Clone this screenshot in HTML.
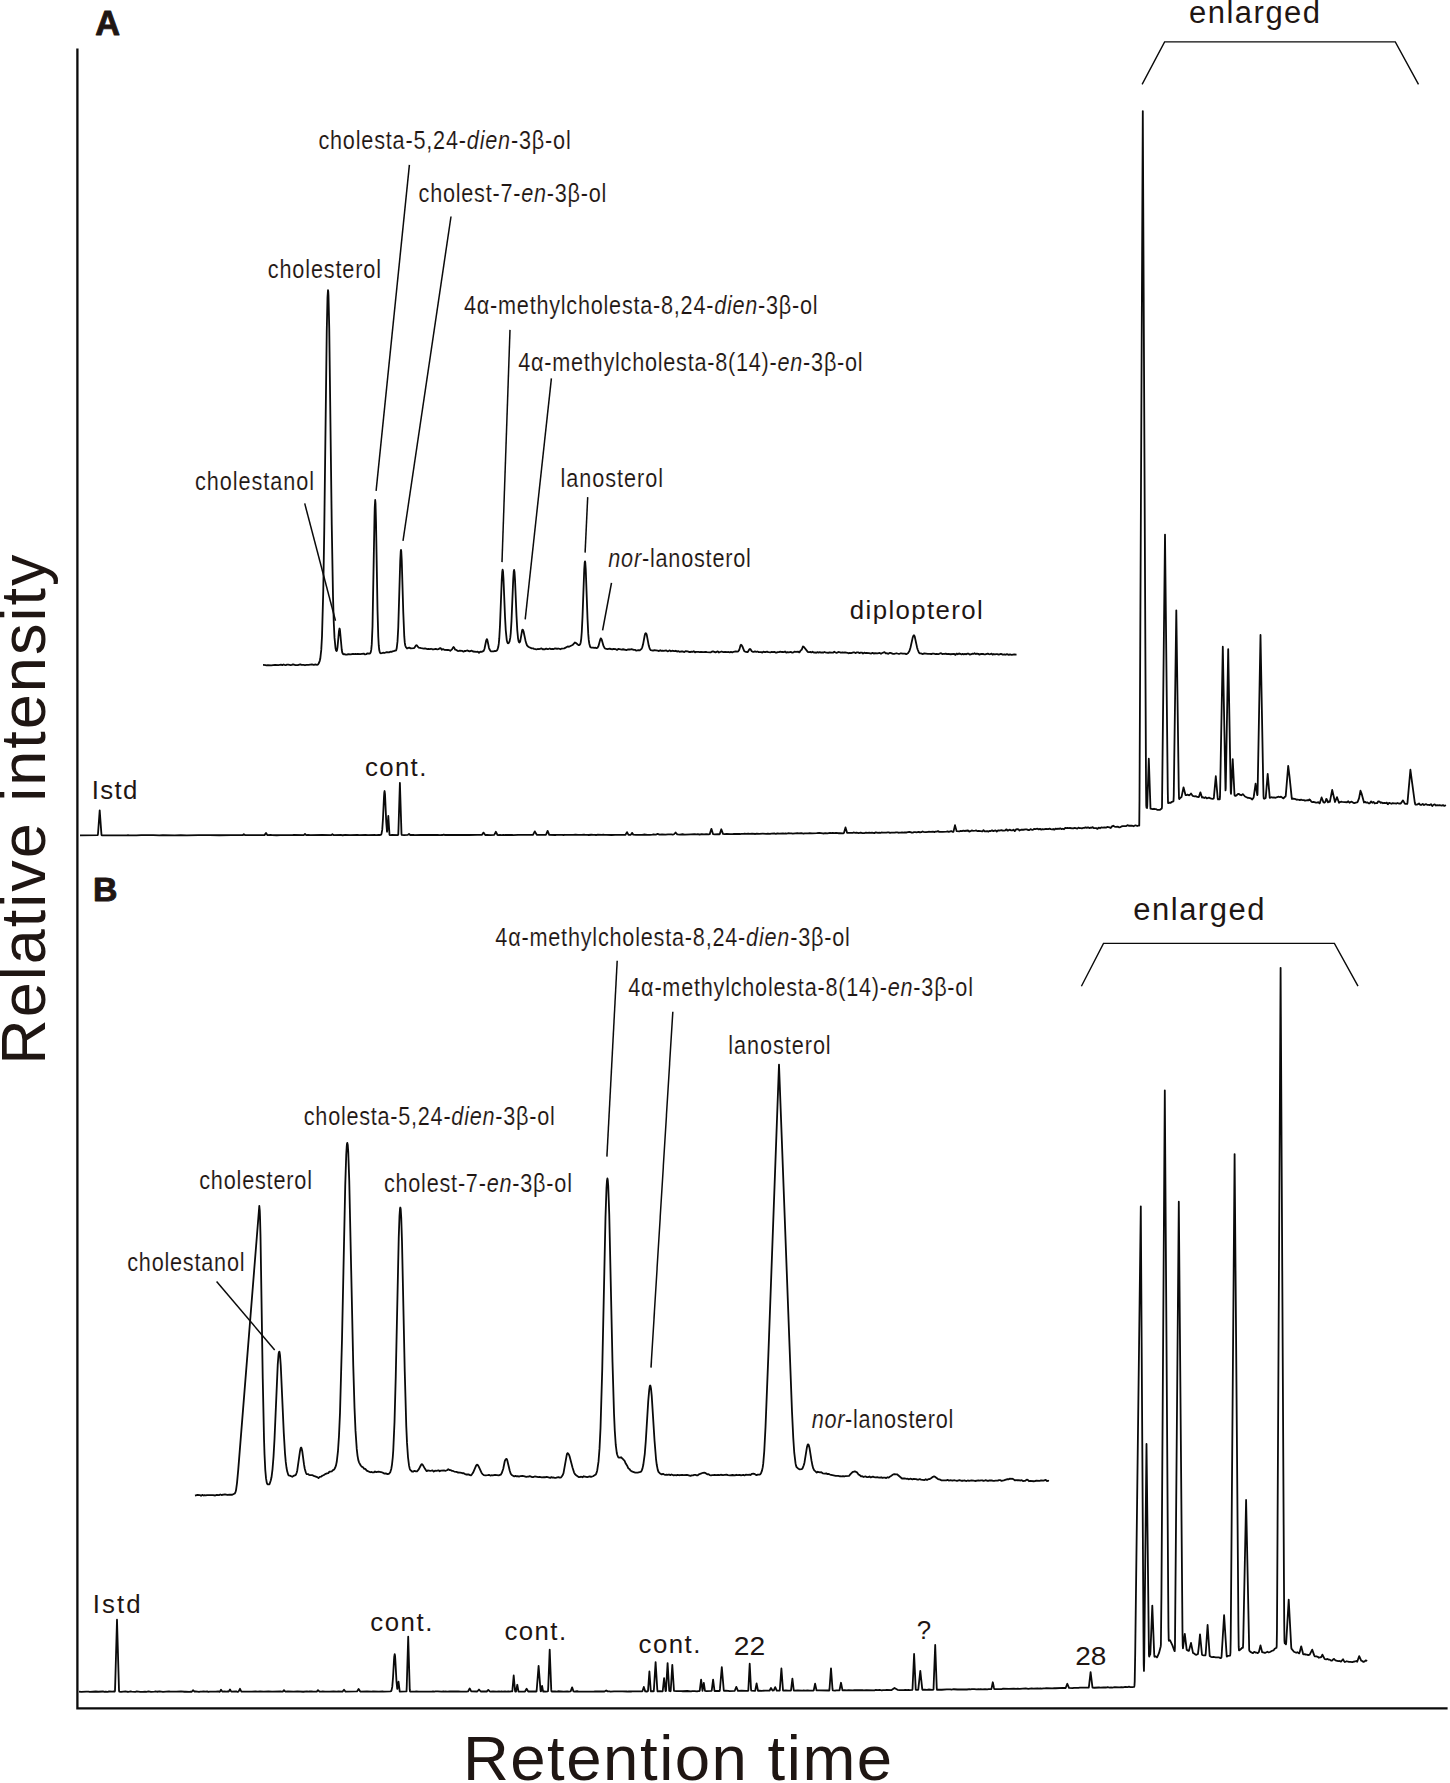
<!DOCTYPE html><html><head><meta charset="utf-8"><style>html,body{margin:0;padding:0;background:#fff;}svg{display:block;}text{font-family:"Liberation Sans",sans-serif;fill:#1f1613;}.th{stroke:#fff;stroke-width:0.12px;}.hv{stroke:#1f1613;stroke-width:0.9px;stroke-linejoin:round;}</style></head><body>
<svg width="1450" height="1783" viewBox="0 0 1450 1783">
<rect width="1450" height="1783" fill="#fff"/>
<path d="M77.4 48.5V1708.4H1447.6" fill="none" stroke="#0a0a0a" stroke-width="2.3" stroke-linejoin="miter"/>
<path d="M80.00 835.31L97.75 835.22L98.00 833.79L99.70 810.28L101.25 831.82L101.50 834.87L101.75 835.30L126.75 835.34L128.00 835.19L129.25 835.34L136.50 835.35L141.25 835.18L153.25 835.18L159.25 835.32L162.75 835.11L174.75 835.32L180.75 835.14L186.75 835.29L198.75 835.11L208.25 835.21L209.50 835.07L219.25 835.26L231.25 835.09L242.50 835.22L243.80 834.28L245.00 835.10L246.75 835.22L255.25 835.03L258.75 835.20L264.50 835.12L266.00 832.91L267.50 835.14L270.75 834.99L272.00 835.16L276.75 835.23L280.25 835.04L281.75 835.22L291.25 835.03L292.50 835.16L293.75 835.00L303.75 835.12L305.00 834.05L306.25 835.09L308.00 834.97L310.50 835.16L322.25 834.99L331.00 835.15L332.40 834.26L333.25 834.96L333.75 835.13L341.50 835.01L342.75 835.25L345.25 834.94L350.00 835.15L357.25 834.96L359.50 835.15L365.50 834.85L368.00 835.13L375.25 835.02L376.50 835.19L378.75 834.95L380.25 835.01L381.00 834.70L381.50 833.88L382.25 829.64L383.00 818.31L384.00 796.58L384.25 792.99L384.60 791.03L385.00 794.14L386.25 822.25L387.00 831.75L387.25 830.79L388.30 816.01L389.50 834.64L389.75 834.99L390.75 835.17L392.00 834.97L398.00 835.07L398.25 834.72L398.50 828.49L399.90 782.78L401.50 834.02L401.75 834.92L404.00 835.20L407.75 834.91L409.00 833.94L410.25 835.00L413.50 834.92L414.75 835.09L420.75 834.80L422.00 835.00L437.50 834.90L440.00 835.06L442.25 835.02L443.50 834.73L445.00 834.99L466.25 834.88L468.75 835.02L477.25 834.84L481.00 834.96L482.00 834.77L483.50 832.60L485.25 834.98L487.00 834.82L490.50 835.03L494.25 834.82L495.90 831.79L497.50 834.99L497.75 835.04L500.00 834.81L501.25 835.07L503.50 834.86L504.75 835.02L510.75 834.99L512.00 834.81L513.25 835.06L518.00 834.84L532.50 834.95L533.00 834.87L534.80 831.39L536.75 834.79L545.75 834.82L546.00 834.77L547.60 830.85L549.25 834.82L555.25 834.99L556.50 834.80L561.25 834.91L562.25 834.78L563.50 835.01L564.75 834.77L566.00 834.94L567.25 834.78L568.50 834.94L573.25 834.94L575.50 834.64L578.00 834.87L581.50 834.93L584.00 834.73L585.25 834.96L587.50 834.83L588.75 835.01L591.25 834.76L593.50 834.92L594.75 834.77L596.00 834.99L597.25 834.77L602.00 834.92L603.25 834.72L604.50 834.93L606.75 834.79L611.50 834.99L615.25 834.78L622.50 834.88L625.50 834.75L627.00 832.12L628.50 834.90L630.75 834.87L632.00 832.88L633.25 834.62L635.75 834.91L642.75 834.74L644.00 834.52L647.50 834.87L650.00 834.85L652.50 834.63L653.50 834.32L654.75 834.70L655.75 834.71L657.60 833.90L659.50 834.63L662.00 834.48L665.50 834.70L668.00 834.47L671.50 834.46L672.75 834.63L674.00 834.26L675.60 832.51L677.25 834.37L680.00 834.59L682.50 834.24L684.75 834.54L690.75 834.28L694.50 834.26L696.75 834.44L698.00 834.17L699.25 834.51L700.25 834.49L701.75 834.07L704.00 834.28L706.25 834.12L708.75 834.28L709.75 834.12L711.40 828.80L713.00 834.07L714.75 834.31L718.25 834.08L719.50 834.30L719.75 834.13L721.30 829.25L723.00 833.88L724.50 834.08L726.75 833.81L730.25 834.15L732.75 834.08L734.00 833.80L740.00 834.02L741.25 833.84L743.50 833.94L744.75 833.71L746.00 833.89L748.25 833.60L749.75 833.94L752.00 833.69L755.50 833.98L756.75 833.75L759.25 833.94L762.75 833.65L766.25 833.82L767.75 833.53L770.00 833.84L771.25 833.61L774.75 833.51L776.00 833.80L777.25 833.40L779.50 833.61L783.00 833.40L784.50 833.57L785.50 833.37L786.75 833.59L788.00 833.25L790.25 833.47L791.50 833.28L792.75 833.54L797.50 833.16L798.75 833.39L801.25 833.16L803.50 833.69L804.75 833.40L808.50 833.41L809.50 833.11L812.00 833.32L816.75 833.19L819.25 832.82L822.75 833.44L824.00 833.48L825.25 833.18L827.50 833.30L830.00 832.83L831.25 833.10L832.50 832.81L834.75 833.18L836.00 832.82L838.25 833.24L839.75 833.10L843.25 833.30L843.75 833.17L844.00 832.74L845.50 827.40L847.00 832.57L847.25 832.92L852.75 832.81L854.00 832.49L855.25 832.90L856.50 832.67L858.75 833.12L860.00 832.76L861.25 832.76L862.50 833.07L864.75 832.99L866.00 832.73L867.25 832.92L869.50 832.64L870.75 832.86L872.00 832.63L874.25 833.14L875.75 832.42L878.00 832.91L879.25 832.67L880.50 832.86L881.50 832.50L882.75 832.71L886.25 832.68L887.75 832.37L888.75 832.39L890.00 832.86L891.25 832.63L894.75 832.61L896.00 832.31L897.25 832.34L898.50 832.75L899.50 832.55L900.75 832.65L902.00 832.34L903.25 832.71L904.50 832.49L906.75 832.48L909.25 831.91L910.50 832.10L911.75 832.63L912.75 832.55L914.00 832.14L915.25 832.14L916.50 832.40L918.75 831.82L920.00 832.42L921.25 832.16L922.50 831.45L923.50 831.90L925.00 832.05L926.00 832.11L928.50 831.77L930.75 831.96L933.00 831.74L934.50 832.12L935.50 831.57L936.75 831.66L938.00 831.14L939.25 831.88L942.75 831.92L946.50 831.70L947.50 831.48L948.75 831.89L951.25 831.03L952.50 831.76L953.25 831.95L953.50 831.63L955.00 825.12L956.50 830.87L956.75 831.20L959.50 831.31L960.75 830.87L962.00 831.16L963.25 830.72L964.50 830.99L968.00 830.50L969.25 831.56L970.50 831.20L971.75 830.40L973.00 830.81L975.25 830.71L976.25 830.45L977.50 831.18L978.75 830.79L982.25 831.37L982.50 831.30L983.50 830.20L983.75 830.27L984.75 831.46L987.25 831.03L988.50 831.66L989.50 830.87L990.75 831.02L992.00 830.34L993.25 831.11L995.50 830.41L996.75 831.45L998.00 830.40L999.25 830.52L1001.50 830.13L1002.75 830.63L1004.00 830.72L1005.25 830.45L1006.25 829.38L1006.50 829.35L1007.50 830.61L1007.75 830.66L1010.00 829.63L1011.25 830.45L1012.50 830.33L1013.50 829.66L1014.75 831.17L1016.00 829.44L1017.25 829.16L1018.50 829.49L1019.50 830.50L1021.00 829.77L1023.25 829.76L1025.50 829.40L1026.75 829.38L1028.00 830.01L1029.25 830.09L1030.50 829.11L1031.50 829.62L1032.75 829.91L1034.00 828.93L1035.25 829.17L1037.50 828.72L1038.75 829.36L1040.00 828.92L1041.25 829.58L1042.50 829.23L1043.75 829.36L1046.00 828.78L1048.25 829.04L1049.50 828.67L1050.75 829.18L1052.00 829.35L1053.25 829.02L1054.25 829.70L1054.50 829.70L1055.50 828.59L1055.75 828.56L1056.75 829.06L1058.00 828.53L1059.25 828.83L1060.25 828.30L1060.50 828.31L1061.50 829.19L1062.75 828.74L1064.00 829.25L1065.25 827.84L1066.50 828.20L1067.50 827.98L1068.75 828.12L1070.00 828.00L1072.25 828.32L1073.50 828.27L1074.75 827.95L1077.25 828.65L1078.50 827.66L1079.50 828.07L1080.75 828.04L1082.00 828.32L1083.25 827.97L1084.50 827.91L1085.50 827.39L1086.75 827.89L1088.00 827.30L1089.25 828.12L1090.50 827.73L1091.50 827.77L1092.75 827.19L1094.00 828.18L1096.25 828.14L1097.50 828.90L1098.75 827.56L1100.00 828.26L1101.25 827.37L1102.50 827.63L1104.75 827.44L1106.00 827.63L1107.25 826.96L1109.50 827.36L1110.75 828.08L1112.00 826.37L1113.25 825.71L1114.50 826.51L1115.75 826.80L1118.00 826.69L1119.25 827.35L1120.50 827.10L1121.50 826.48L1122.75 826.10L1126.25 826.07L1127.50 825.18L1128.75 825.76L1132.25 825.77L1133.50 826.29L1135.00 825.45L1136.00 825.45L1137.25 826.05L1138.50 825.50L1139.25 825.66L1139.50 799.90L1142.80 111.03L1146.00 782.55L1146.25 805.45L1146.50 807.73L1147.00 807.98L1147.25 806.25L1148.80 758.68L1150.50 808.62L1152.75 809.17L1154.00 808.77L1155.00 809.15L1156.25 809.21L1157.50 809.93L1160.00 809.83L1161.75 808.53L1162.00 806.94L1165.00 534.56L1167.75 789.44L1168.00 802.24L1168.25 803.15L1169.50 802.71L1170.75 802.74L1172.00 801.81L1173.25 801.43L1173.50 801.09L1173.75 795.73L1176.30 610.38L1178.75 787.68L1179.00 798.25L1179.25 799.03L1180.25 797.92L1181.50 797.09L1183.50 787.35L1185.50 795.01L1185.75 795.17L1186.25 795.22L1187.50 794.70L1189.25 795.30L1190.00 794.79L1191.00 793.55L1192.75 795.96L1194.50 796.29L1196.00 796.25L1197.25 796.96L1198.50 797.21L1198.75 797.16L1199.00 796.60L1200.40 792.32L1202.00 797.53L1203.00 797.21L1204.25 798.02L1205.50 797.21L1206.75 798.39L1209.00 797.65L1210.50 798.33L1212.50 798.86L1213.50 798.58L1213.75 798.30L1214.00 796.14L1215.80 776.22L1217.75 798.55L1218.00 799.40L1219.75 799.35L1220.00 796.69L1220.25 785.32L1222.80 646.65L1225.50 790.46L1225.75 787.99L1228.20 649.16L1230.50 779.40L1230.75 792.05L1231.00 793.85L1232.70 759.10L1234.50 794.91L1234.75 795.62L1235.50 795.85L1236.50 795.37L1238.00 794.02L1239.00 793.98L1240.25 794.92L1241.25 795.23L1242.75 794.22L1243.00 794.24L1245.00 796.53L1247.50 797.74L1248.75 797.88L1251.00 798.49L1252.25 799.52L1253.50 797.64L1253.75 796.75L1255.60 783.59L1257.25 795.18L1257.50 794.51L1257.75 784.52L1260.50 634.93L1263.25 784.80L1263.50 795.80L1263.75 798.54L1264.25 798.77L1265.50 798.23L1265.75 797.32L1267.70 773.84L1269.75 797.95L1271.50 797.23L1272.75 797.59L1274.00 797.37L1275.00 797.77L1278.75 796.73L1280.00 797.19L1281.00 796.66L1282.25 797.66L1283.50 798.36L1284.75 796.86L1285.50 796.62L1285.75 795.60L1288.20 765.90L1289.50 776.39L1291.75 798.11L1292.00 798.97L1293.25 798.55L1295.50 799.13L1296.75 799.78L1297.75 799.50L1299.25 800.01L1301.50 799.76L1302.75 800.22L1304.00 800.12L1305.00 800.71L1306.25 800.34L1307.00 800.43L1307.50 800.08L1308.75 800.29L1309.30 799.39L1310.00 799.84L1311.50 801.76L1312.25 802.11L1313.50 801.79L1316.00 802.63L1317.00 802.71L1318.25 802.13L1319.50 803.39L1319.75 803.23L1320.00 802.59L1321.60 797.48L1323.50 802.40L1324.50 802.68L1325.50 801.59L1326.30 798.86L1326.75 799.27L1328.00 802.37L1329.00 801.46L1329.75 801.85L1330.00 801.14L1332.20 789.93L1335.00 802.03L1337.00 797.18L1339.00 802.82L1340.00 802.08L1341.00 801.73L1342.25 801.97L1347.00 802.26L1348.25 801.30L1349.50 802.71L1350.75 801.93L1351.75 801.67L1353.00 802.60L1354.25 803.09L1356.75 802.48L1357.50 802.10L1357.75 801.65L1359.00 798.31L1360.50 790.71L1361.50 793.34L1364.00 802.49L1365.00 801.81L1366.25 802.71L1367.50 802.42L1368.75 803.42L1369.75 803.32L1371.00 801.39L1371.25 801.42L1372.25 802.76L1373.50 801.91L1374.75 803.49L1376.00 803.02L1377.00 803.22L1377.25 803.06L1378.25 801.29L1378.50 801.28L1379.60 801.57L1380.75 802.83L1381.75 802.42L1383.00 803.26L1384.25 802.80L1385.50 803.20L1386.75 802.61L1387.75 804.16L1388.00 804.26L1389.00 802.93L1389.25 802.85L1391.50 803.74L1392.75 803.14L1394.00 803.40L1395.25 803.30L1396.25 803.55L1397.50 803.01L1398.75 803.49L1400.25 803.65L1400.75 803.42L1403.00 800.41L1404.75 803.47L1405.25 803.93L1407.00 803.97L1407.25 803.85L1407.50 802.58L1410.40 769.76L1414.75 802.25L1415.25 804.37L1415.50 804.60L1416.75 804.67L1418.00 804.18L1419.00 803.42L1420.25 804.77L1421.50 804.79L1422.75 803.90L1424.00 805.12L1425.00 804.43L1426.25 804.16L1427.50 804.93L1428.75 804.82L1429.75 805.05L1431.00 804.14L1432.25 806.05L1433.50 804.75L1434.75 804.29L1436.00 805.53L1437.00 805.08L1438.25 805.47L1439.50 805.14L1441.75 805.56L1443.00 805.08L1444.25 805.90L1446.00 805.22" fill="none" stroke="#0a0a0a" stroke-width="1.8" stroke-linejoin="round"/>
<path d="M263.00 664.97L265.50 665.06L266.50 665.31L267.75 665.17L271.25 665.45L275.00 664.92L278.50 665.08L281.00 664.73L282.25 665.12L283.50 664.52L284.50 664.93L285.75 665.13L287.00 664.70L288.25 664.65L290.75 665.11L291.75 664.90L293.00 664.35L295.50 665.19L297.75 665.05L300.25 664.29L301.50 664.85L303.75 664.80L305.00 665.23L306.25 664.81L308.50 664.90L312.00 664.46L313.50 664.88L315.75 664.49L317.00 664.91L318.00 664.48L318.75 663.30L319.75 660.83L320.25 658.82L321.25 649.91L322.00 636.26L323.25 591.53L324.25 530.62L326.75 331.04L327.50 297.30L328.00 290.14L328.25 291.48L328.50 296.16L329.25 328.69L331.75 524.95L333.00 596.14L333.75 621.98L334.50 637.66L335.50 647.97L336.00 650.23L336.50 651.04L336.75 650.86L337.00 650.23L337.50 647.38L339.00 630.86L339.50 628.52L339.75 628.95L340.00 630.48L341.75 649.72L342.25 652.50L343.00 654.00L343.50 654.26L344.50 654.21L345.75 654.61L347.00 654.65L348.25 654.19L350.75 654.42L353.00 653.79L354.25 654.15L355.50 653.90L356.50 654.18L357.75 653.93L360.25 654.15L363.75 653.59L365.00 654.39L366.25 654.13L367.50 653.32L369.75 653.65L370.25 653.19L370.75 652.08L371.25 649.64L371.75 644.39L372.50 626.44L374.50 516.96L374.75 507.26L375.20 500.00L375.50 503.21L376.00 521.53L377.50 609.48L378.25 636.29L378.75 645.44L379.25 650.03L379.75 652.12L380.25 653.02L380.75 653.34L381.75 653.20L383.00 652.73L384.25 652.98L386.75 652.06L389.00 652.37L390.25 651.68L391.50 651.88L392.50 651.38L393.75 651.22L395.00 650.54L395.75 650.60L396.25 650.07L396.75 648.02L397.50 641.42L398.25 627.76L400.25 560.55L400.75 551.18L401.00 549.85L401.25 551.15L401.75 560.47L403.25 611.75L404.25 636.19L404.75 642.43L405.25 645.50L406.00 647.29L407.00 648.46L408.25 647.85L409.25 647.63L410.75 648.38L414.00 648.22L414.50 647.72L415.75 645.65L416.50 645.22L417.00 645.57L418.00 646.95L418.75 647.63L421.25 648.22L423.75 648.59L425.00 648.41L427.50 649.10L428.50 648.88L429.75 649.10L431.00 648.77L432.25 649.23L433.50 649.33L435.75 648.89L437.25 649.37L438.50 649.10L440.25 648.07L440.75 648.37L441.75 649.86L443.00 649.06L444.25 649.80L448.00 650.00L449.00 650.19L450.25 650.76L452.00 649.41L453.00 647.56L453.50 647.01L454.00 647.37L455.25 649.73L456.25 649.90L457.50 650.81L458.50 651.01L459.75 650.59L462.00 650.79L463.50 651.69L464.50 650.94L465.75 651.00L467.00 650.45L469.50 651.44L471.75 650.69L473.00 651.49L476.50 651.87L477.75 651.64L479.00 652.75L480.25 651.76L481.50 651.93L483.25 651.15L483.75 650.71L484.50 648.71L486.25 640.28L486.80 639.10L487.25 639.72L487.50 640.62L489.00 648.00L489.50 649.36L490.50 650.90L491.00 651.35L492.25 651.42L493.50 651.33L494.50 651.02L496.00 651.12L496.75 650.62L497.50 649.57L498.25 647.08L498.75 643.95L499.25 638.71L500.00 625.31L501.75 579.83L502.25 571.80L502.60 569.75L503.00 571.33L503.50 579.32L505.00 616.51L505.75 630.23L506.75 640.09L507.25 642.14L507.75 643.13L508.00 643.28L508.50 643.15L509.50 641.58L510.25 637.93L510.75 633.11L511.50 620.93L513.25 578.66L513.75 571.53L514.10 569.96L514.50 571.92L515.00 579.44L516.50 615.81L517.25 629.82L518.00 638.03L518.50 640.89L519.00 642.27L519.50 642.57L520.25 641.20L522.00 631.06L522.25 630.09L522.60 629.62L523.00 629.99L523.50 631.30L525.50 640.64L526.25 643.38L527.00 645.31L527.75 646.23L528.75 646.97L531.75 648.35L533.00 648.29L534.00 648.89L535.50 649.07L536.50 649.47L537.75 648.97L539.00 649.11L540.00 648.95L541.25 648.39L541.50 648.41L542.75 649.34L543.75 649.19L545.00 649.36L546.25 648.56L547.50 649.06L548.50 649.03L549.75 648.50L551.00 649.12L552.25 648.79L553.50 649.07L554.75 648.48L557.00 648.75L558.25 648.51L560.50 649.23L561.75 648.54L564.25 648.36L567.75 646.44L569.00 646.81L572.50 645.02L575.00 642.47L576.00 642.97L578.50 645.09L579.25 645.12L579.75 644.75L580.25 644.00L580.75 642.22L581.25 638.55L581.75 632.22L582.50 617.02L584.25 569.06L584.75 562.18L585.00 561.34L585.25 562.33L585.75 569.45L587.50 618.32L588.25 633.89L588.75 639.92L589.25 643.46L590.00 646.30L590.50 647.22L591.00 647.50L593.00 647.57L594.25 647.91L595.50 647.75L596.50 648.21L597.50 647.69L598.50 646.04L600.25 639.51L600.75 638.44L601.00 638.35L601.75 639.71L603.50 645.95L604.50 647.84L605.00 648.36L605.50 648.54L607.50 649.09L609.75 648.57L611.00 649.18L612.25 649.27L613.50 648.94L615.75 649.18L617.00 649.95L618.25 648.98L621.75 649.52L623.00 649.25L626.50 650.09L627.75 649.51L630.25 649.49L631.50 649.09L633.75 649.78L635.00 649.85L636.25 650.66L638.50 650.19L639.75 650.38L641.50 648.82L642.25 647.35L643.00 644.59L644.75 635.26L645.25 633.63L645.75 633.16L646.25 633.45L646.75 634.90L648.75 645.56L649.75 648.81L650.75 650.20L653.00 650.69L654.25 650.08L657.75 650.61L659.00 651.07L660.25 650.28L661.50 650.89L662.50 650.69L663.75 650.97L666.25 650.45L667.50 651.27L668.50 651.06L669.75 650.39L671.00 651.25L672.25 650.76L674.50 651.14L675.75 650.77L677.00 651.59L678.25 651.13L679.50 651.81L680.75 651.51L683.00 651.51L684.25 652.07L685.50 651.18L687.75 651.37L689.00 652.00L690.25 652.00L691.50 651.74L692.50 651.83L693.75 651.27L695.00 652.31L696.25 651.80L698.50 651.86L699.75 652.19L701.00 651.93L703.25 652.03L705.75 651.80L707.00 652.13L710.50 652.46L711.75 651.63L713.00 651.39L715.50 652.38L717.75 651.42L719.00 652.52L721.50 651.52L723.75 652.02L725.00 651.82L727.25 652.14L728.50 652.01L729.75 652.44L731.00 651.94L732.25 652.46L733.50 651.79L735.75 651.31L737.25 651.63L738.25 651.30L739.25 649.88L740.50 645.39L741.00 644.77L741.50 645.02L742.25 646.16L744.25 651.11L745.00 651.59L747.25 652.15L747.75 652.06L749.25 649.55L750.00 648.96L750.50 649.29L751.75 651.22L752.75 651.86L753.75 651.92L755.00 651.46L756.25 651.86L757.50 651.50L758.75 652.08L759.75 652.18L761.00 652.02L762.25 652.57L763.50 651.66L764.75 652.12L765.75 652.01L767.00 651.60L768.25 652.17L770.50 652.36L771.75 651.96L773.00 652.21L774.25 651.81L775.50 652.50L776.50 652.58L777.75 652.07L779.00 652.07L780.25 651.66L781.50 652.00L782.50 651.89L783.75 652.07L785.00 651.53L786.25 652.57L787.50 652.09L788.75 652.34L791.00 651.91L792.25 652.63L793.50 652.30L794.75 651.57L795.75 651.97L798.25 651.74L799.25 652.40L799.50 652.34L800.50 650.68L801.75 649.54L803.00 646.44L803.75 646.80L807.75 651.90L809.00 652.26L810.25 651.88L811.25 652.45L811.50 652.46L812.50 651.71L813.75 652.55L815.00 652.43L816.25 652.82L817.50 652.17L818.50 652.54L819.75 652.13L821.00 652.60L822.25 652.43L823.25 652.60L824.50 652.00L825.75 652.53L827.00 652.54L828.25 652.91L829.50 652.34L831.75 652.69L833.00 652.68L834.25 651.71L835.50 652.48L836.50 652.81L839.00 651.97L840.25 652.50L841.25 652.60L842.50 652.34L843.75 652.67L845.00 652.31L847.50 652.79L848.50 653.28L849.75 652.89L851.00 653.20L853.50 652.42L854.50 652.43L855.75 653.08L857.00 652.31L858.00 652.33L859.50 653.15L860.50 652.68L861.75 652.54L863.00 653.50L864.25 652.69L865.50 653.17L866.50 653.00L869.00 653.05L871.25 653.55L872.50 652.84L873.75 653.59L875.00 653.05L877.50 653.36L879.75 652.89L881.00 653.73L882.25 653.01L884.50 652.18L885.75 653.34L887.00 653.25L888.25 653.87L889.50 652.94L890.50 652.94L893.00 653.85L894.25 653.87L896.50 653.25L899.00 654.00L900.25 653.47L901.25 653.37L902.75 653.66L905.00 653.58L906.25 654.19L908.25 652.90L909.50 650.78L910.50 647.51L912.75 637.38L913.50 635.58L914.00 635.30L914.50 635.94L914.75 636.64L917.00 647.16L917.75 649.75L918.75 652.20L919.50 653.35L920.75 653.30L923.00 654.04L924.25 653.38L927.75 653.91L930.25 653.80L931.25 654.15L932.50 653.64L933.75 653.56L935.00 654.03L936.25 653.87L938.50 654.20L939.75 653.50L941.00 653.14L942.25 654.05L943.50 653.87L944.50 653.98L945.75 653.61L947.00 654.18L948.25 653.85L950.50 654.24L954.25 653.78L955.25 654.76L955.50 654.79L956.50 653.64L956.75 653.61L957.75 654.22L959.00 653.50L960.25 653.77L961.50 654.46L962.50 653.85L963.75 654.39L965.00 653.93L966.25 654.34L967.50 653.61L968.50 653.69L969.75 654.57L972.25 653.77L973.50 653.90L974.50 653.25L975.75 654.00L977.00 653.70L978.25 653.87L979.50 654.64L980.75 654.00L983.00 653.82L984.25 654.45L985.25 654.42L987.75 653.68L989.00 654.18L990.00 654.29L991.50 653.68L992.50 654.59L993.75 654.01L995.00 654.34L996.25 654.05L997.25 654.06L998.75 654.62L1001.00 653.83L1002.25 654.49L1003.50 654.64L1004.50 654.36L1005.75 654.75L1007.00 654.08L1008.25 654.74L1010.50 654.50L1011.75 654.91L1014.25 654.37L1015.50 654.62L1016.50 654.29" fill="none" stroke="#0a0a0a" stroke-width="1.8" stroke-linejoin="round"/>
<path d="M79.00 1691.65L81.25 1691.90L86.25 1691.56L88.50 1691.55L89.75 1691.82L95.75 1691.52L98.25 1691.77L103.00 1691.48L104.25 1691.85L105.50 1691.53L107.75 1691.97L109.00 1691.33L112.50 1691.69L113.75 1691.45L114.75 1691.59L115.00 1690.40L115.25 1682.64L117.00 1619.71L119.00 1690.24L119.25 1691.56L121.00 1691.90L125.75 1691.33L127.00 1691.74L128.25 1691.87L129.50 1691.72L130.50 1691.31L131.75 1691.60L135.25 1691.78L136.75 1691.46L140.25 1691.79L142.75 1691.79L145.00 1691.53L146.25 1691.82L148.50 1691.47L151.00 1691.89L154.50 1691.69L155.75 1691.36L157.00 1691.74L159.50 1691.35L163.00 1691.79L169.00 1691.41L170.25 1691.66L176.25 1691.71L181.00 1691.34L184.50 1691.74L185.75 1691.60L189.50 1691.89L190.50 1691.69L191.75 1691.80L193.00 1690.23L194.25 1691.49L195.50 1691.41L199.00 1691.91L200.25 1691.57L201.50 1691.68L203.75 1691.38L205.00 1691.67L207.25 1691.50L208.50 1691.79L209.75 1691.57L215.75 1691.71L218.25 1691.47L219.50 1691.80L220.00 1691.44L221.00 1689.80L222.25 1691.55L224.25 1691.47L226.50 1691.70L227.75 1691.43L228.75 1691.64L230.00 1689.48L231.25 1691.60L236.25 1691.44L237.50 1691.76L238.50 1691.56L240.00 1688.81L241.25 1691.30L241.50 1691.61L242.25 1691.66L248.25 1691.53L250.50 1691.72L251.75 1691.53L255.50 1691.50L257.75 1691.65L260.00 1691.47L263.75 1691.71L268.50 1691.40L272.00 1691.68L280.50 1691.52L281.75 1691.64L282.75 1691.55L284.00 1690.12L285.00 1691.32L285.50 1691.58L287.75 1691.45L293.75 1691.65L297.25 1691.47L303.25 1691.73L307.00 1691.44L308.25 1691.65L309.50 1691.49L311.75 1691.49L313.00 1691.70L315.50 1691.64L316.75 1691.56L318.00 1690.21L319.25 1691.49L321.25 1691.66L322.75 1691.44L325.00 1691.67L329.75 1691.67L333.50 1691.44L337.00 1691.56L338.25 1691.38L342.50 1691.55L344.00 1689.75L345.50 1691.55L356.75 1691.46L357.00 1691.43L358.60 1688.98L360.25 1691.58L367.00 1691.51L371.75 1691.67L373.00 1691.46L379.00 1691.60L382.50 1691.43L383.75 1691.66L390.25 1691.41L391.00 1691.11L391.50 1690.40L392.25 1686.88L393.00 1677.80L394.00 1659.97L394.25 1656.65L394.70 1654.12L395.00 1655.50L395.25 1658.54L396.50 1681.72L397.25 1688.91L397.75 1687.04L398.50 1681.68L399.75 1691.57L406.25 1691.46L406.50 1691.38L406.75 1686.33L408.20 1636.74L409.75 1689.45L410.00 1691.49L415.00 1691.57L416.25 1691.31L418.75 1691.53L429.25 1691.57L431.75 1691.53L433.00 1691.33L434.25 1691.58L435.50 1691.34L437.75 1691.30L441.50 1691.65L443.75 1691.27L445.00 1691.51L447.50 1691.59L449.75 1691.35L457.00 1691.51L458.25 1691.33L460.75 1691.61L466.50 1691.62L468.00 1691.47L469.70 1688.44L471.25 1691.37L471.50 1691.46L477.25 1691.48L479.00 1689.55L480.75 1691.50L483.25 1691.36L486.75 1691.50L488.30 1689.95L489.75 1691.37L490.50 1691.64L493.00 1691.45L496.75 1691.61L499.00 1691.41L500.25 1691.59L501.50 1691.41L502.75 1691.65L505.00 1691.31L506.25 1691.68L508.50 1691.30L509.75 1691.65L511.00 1691.41L512.00 1691.47L512.25 1691.39L512.50 1689.19L513.70 1675.51L515.00 1690.35L515.25 1691.52L516.00 1691.50L517.30 1684.76L518.50 1691.57L525.00 1691.50L526.60 1688.70L528.25 1691.48L532.50 1691.51L535.00 1691.33L536.25 1691.54L536.50 1691.41L536.75 1689.49L538.60 1665.84L540.50 1690.00L540.75 1691.27L541.00 1691.24L541.25 1690.46L542.10 1685.90L543.00 1691.00L543.25 1691.58L544.50 1691.41L545.75 1691.59L547.75 1691.27L548.00 1691.17L548.25 1687.30L549.70 1649.61L551.25 1689.88L551.50 1691.47L551.75 1691.51L555.25 1691.36L556.50 1691.54L558.00 1691.26L563.75 1691.53L567.25 1691.34L568.75 1691.65L570.50 1691.35L570.75 1691.15L572.10 1687.37L573.50 1691.38L574.50 1691.53L577.00 1691.26L578.25 1691.49L593.75 1691.54L595.00 1691.34L597.25 1691.52L604.50 1691.50L606.20 1690.49L607.75 1691.38L609.50 1691.41L610.50 1691.66L614.00 1691.41L622.50 1691.33L627.25 1691.52L628.75 1691.35L631.00 1691.51L632.25 1691.35L641.75 1691.37L642.25 1691.33L642.50 1690.99L643.80 1686.91L645.25 1691.40L646.50 1691.51L647.75 1691.30L648.00 1690.98L649.40 1671.52L650.75 1690.59L651.00 1691.43L652.50 1691.20L653.50 1691.31L653.75 1691.14L654.00 1688.10L655.60 1662.06L657.25 1688.87L657.50 1691.28L657.75 1691.37L659.75 1691.22L662.50 1691.34L662.75 1690.81L664.10 1678.22L665.50 1690.95L665.75 1691.16L666.00 1690.67L667.60 1663.09L669.25 1690.88L670.50 1691.25L670.75 1690.28L672.30 1664.80L674.00 1690.93L676.50 1691.17L681.25 1691.10L682.75 1691.25L687.25 1690.98L691.00 1691.28L692.25 1691.05L694.50 1691.04L697.00 1691.36L698.25 1691.05L699.50 1691.00L699.75 1690.56L701.10 1679.73L702.50 1690.77L703.80 1682.81L705.00 1690.87L706.75 1691.12L711.50 1690.94L711.75 1690.46L713.10 1679.60L714.50 1690.77L714.75 1690.98L719.50 1690.98L719.75 1690.83L720.00 1688.63L721.80 1667.17L723.75 1690.00L724.00 1690.83L724.50 1690.95L725.75 1690.73L728.25 1690.78L729.50 1691.05L734.50 1690.87L734.75 1690.74L736.30 1686.81L738.00 1690.94L741.50 1690.65L746.25 1690.88L748.00 1690.78L748.25 1690.64L748.50 1686.90L749.70 1663.68L751.00 1688.75L751.25 1690.71L754.75 1690.85L755.00 1690.83L755.25 1690.51L756.60 1683.42L758.00 1690.75L758.25 1690.88L759.50 1690.59L761.75 1690.78L765.25 1690.57L769.50 1690.72L771.00 1687.98L772.50 1690.55L773.75 1690.46L775.20 1687.15L776.75 1690.68L779.50 1690.67L779.75 1690.52L781.40 1668.45L783.00 1690.28L783.25 1690.61L785.75 1690.49L788.25 1690.65L790.75 1690.55L791.00 1690.33L792.40 1678.56L793.75 1690.14L794.00 1690.66L797.75 1690.46L802.50 1690.67L803.75 1690.39L805.00 1690.63L807.50 1690.39L809.75 1690.65L813.50 1690.58L813.75 1690.25L815.10 1683.74L816.50 1690.27L819.25 1690.44L829.25 1690.48L829.50 1689.01L831.00 1668.33L832.50 1689.01L832.75 1690.41L835.00 1690.58L836.25 1690.34L839.50 1690.23L841.00 1682.77L842.50 1690.43L844.50 1690.25L847.00 1690.47L848.25 1690.24L853.00 1690.36L854.25 1690.16L860.25 1690.27L862.50 1690.09L863.75 1690.35L866.25 1690.03L874.50 1690.33L875.75 1689.91L878.00 1690.09L879.50 1689.86L881.75 1690.27L883.00 1690.03L885.25 1690.09L886.75 1689.87L891.25 1690.22L894.50 1687.97L897.50 1689.77L899.75 1690.19L904.50 1690.01L905.75 1689.81L907.00 1690.03L908.25 1689.87L909.50 1690.11L912.25 1689.89L912.50 1689.27L914.10 1653.95L915.75 1689.63L916.00 1689.85L918.00 1689.80L918.25 1689.64L920.30 1670.87L922.25 1689.14L922.50 1689.73L925.00 1689.57L926.25 1689.83L928.50 1689.52L932.25 1689.83L933.50 1689.56L935.20 1644.96L936.75 1688.04L937.00 1689.76L939.25 1689.53L941.75 1689.77L946.75 1689.44L950.25 1689.41L951.50 1689.71L953.75 1689.24L957.50 1689.49L958.50 1689.38L961.00 1689.51L962.25 1689.34L967.00 1689.50L969.25 1689.23L970.50 1689.45L971.75 1689.17L974.25 1689.04L976.50 1689.32L979.00 1689.27L980.25 1689.06L982.50 1689.30L985.00 1689.14L987.25 1689.35L988.50 1689.09L991.25 1689.12L991.50 1688.62L992.80 1682.27L994.00 1688.04L994.25 1688.98L994.50 1689.01L1001.75 1689.05L1003.00 1688.73L1009.00 1688.97L1013.75 1688.68L1016.25 1688.94L1017.50 1688.71L1019.75 1688.87L1025.75 1688.43L1028.25 1688.81L1031.75 1688.39L1033.00 1688.65L1037.75 1688.41L1039.00 1688.66L1040.25 1688.34L1041.50 1688.58L1043.75 1688.31L1045.00 1688.37L1046.25 1688.12L1052.25 1688.39L1054.50 1688.15L1055.75 1688.24L1063.00 1687.81L1065.50 1687.99L1065.75 1687.77L1067.30 1683.74L1069.00 1687.88L1072.50 1688.05L1074.00 1687.79L1078.50 1687.87L1079.75 1687.68L1088.50 1687.65L1088.75 1687.58L1089.00 1686.03L1090.60 1672.17L1092.50 1687.63L1094.25 1687.74L1099.00 1687.49L1100.25 1687.65L1103.75 1687.30L1106.00 1687.52L1107.50 1687.21L1109.75 1687.54L1111.00 1687.32L1112.25 1687.54L1114.75 1687.16L1119.25 1687.38L1121.75 1687.16L1123.00 1687.38L1125.25 1686.96L1127.75 1687.06L1129.00 1686.71L1130.25 1687.07L1132.50 1687.16L1133.75 1686.92L1134.20 1686.79L1134.45 1685.65L1134.70 1681.61L1135.20 1653.78L1140.80 1206.36L1143.45 1632.00L1143.70 1664.21L1143.95 1670.93L1144.20 1660.93L1146.50 1443.89L1148.95 1655.29L1149.20 1656.56L1149.95 1654.67L1150.20 1654.69L1150.45 1651.34L1152.30 1605.63L1154.20 1654.13L1154.45 1656.75L1155.70 1656.29L1156.95 1657.47L1157.20 1657.07L1158.95 1653.15L1160.70 1646.42L1160.90 1644.45L1161.45 1593.15L1164.80 1090.31L1168.20 1595.72L1168.45 1627.23L1168.70 1639.49L1168.95 1640.82L1169.95 1640.24L1170.20 1640.68L1172.45 1645.41L1174.45 1650.95L1174.70 1651.08L1174.95 1646.90L1178.80 1201.68L1182.45 1628.57L1182.70 1645.19L1182.95 1648.34L1184.80 1633.94L1186.70 1649.89L1187.20 1650.02L1188.20 1650.74L1188.95 1650.73L1191.00 1642.98L1192.95 1652.68L1193.20 1653.08L1194.20 1653.52L1195.45 1654.64L1196.45 1654.83L1197.95 1653.93L1198.95 1645.59L1200.00 1634.28L1201.95 1654.25L1202.20 1654.99L1202.70 1655.17L1203.70 1655.43L1204.95 1655.17L1205.45 1655.24L1205.70 1653.70L1207.60 1624.98L1209.70 1655.98L1210.95 1656.81L1212.20 1657.15L1213.45 1656.93L1215.70 1657.30L1219.20 1657.46L1220.45 1658.08L1221.20 1657.81L1221.45 1657.29L1221.70 1654.30L1224.10 1615.17L1226.70 1656.16L1226.95 1656.64L1227.95 1655.89L1229.95 1655.53L1230.20 1655.25L1230.45 1652.72L1230.70 1638.61L1230.95 1610.71L1234.60 1154.04L1238.40 1624.44L1238.70 1646.92L1238.95 1650.28L1239.20 1650.45L1239.45 1650.30L1240.95 1649.07L1242.20 1647.72L1242.70 1647.89L1242.95 1647.54L1243.20 1642.48L1246.10 1500.02L1249.20 1649.93L1249.45 1650.80L1250.45 1651.86L1252.95 1653.18L1254.20 1651.85L1255.45 1652.48L1256.45 1652.53L1257.70 1653.13L1257.95 1653.03L1258.95 1651.83L1260.50 1645.35L1262.20 1652.21L1264.95 1652.99L1267.45 1651.78L1268.70 1652.43L1269.95 1651.99L1272.20 1650.69L1273.45 1650.47L1274.70 1648.76L1276.45 1647.77L1276.70 1646.00L1276.95 1630.85L1277.20 1592.07L1280.60 967.80L1283.95 1579.56L1284.20 1620.55L1284.45 1640.60L1284.70 1643.28L1285.20 1643.51L1285.95 1644.26L1286.20 1642.66L1288.70 1599.64L1291.20 1646.56L1291.45 1648.66L1293.95 1651.72L1296.20 1652.77L1297.45 1652.22L1299.20 1653.38L1299.70 1652.23L1301.20 1646.31L1302.95 1653.33L1303.20 1654.18L1303.45 1654.35L1304.70 1654.03L1305.70 1654.60L1306.95 1654.66L1308.20 1655.07L1309.70 1654.54L1312.20 1649.59L1314.20 1655.38L1314.70 1656.26L1316.45 1656.43L1317.70 1656.83L1318.95 1657.74L1320.20 1657.27L1320.45 1657.44L1321.45 1656.90L1322.40 1654.63L1324.45 1658.68L1324.95 1659.12L1326.20 1659.30L1327.45 1658.97L1328.70 1659.60L1329.70 1659.61L1330.95 1660.51L1331.95 1660.54L1333.45 1659.03L1334.00 1658.92L1334.70 1659.79L1336.20 1660.70L1338.20 1661.12L1339.45 1661.01L1340.95 1661.65L1343.00 1659.21L1344.20 1661.34L1344.95 1662.02L1346.70 1661.24L1348.95 1661.91L1350.20 1661.78L1352.45 1662.05L1353.70 1661.59L1354.95 1661.50L1356.20 1661.01L1357.20 1661.71L1359.20 1656.07L1361.20 1660.69L1362.20 1661.02L1363.45 1661.93L1364.70 1661.40L1365.70 1660.33L1367.20 1660.97" fill="none" stroke="#0a0a0a" stroke-width="1.8" stroke-linejoin="round"/>
<path d="M195.00 1495.67L197.50 1494.90L199.75 1495.06L201.00 1495.84L202.25 1494.87L203.50 1495.49L204.50 1495.17L205.75 1495.38L207.00 1495.07L213.00 1495.11L215.25 1495.50L216.75 1494.94L219.00 1495.07L220.25 1494.46L221.50 1494.99L225.00 1494.41L227.25 1494.98L229.75 1494.56L232.25 1494.74L234.75 1493.54L235.50 1492.13L236.00 1490.28L237.00 1483.11L238.25 1469.56L259.30 1205.87L259.75 1210.31L260.00 1216.52L260.50 1236.13L262.75 1378.69L264.00 1438.51L264.50 1453.98L265.25 1469.55L266.00 1478.20L266.75 1482.58L267.25 1483.91L267.75 1484.40L269.00 1484.45L269.50 1484.03L269.75 1483.50L270.75 1480.52L271.50 1477.27L272.50 1469.32L273.50 1456.83L274.50 1439.21L277.75 1364.38L278.50 1354.77L278.75 1352.98L279.25 1351.58L279.50 1352.00L280.00 1355.13L280.75 1365.32L283.75 1432.36L285.00 1453.35L285.75 1461.88L286.50 1467.74L287.25 1471.56L288.25 1474.66L288.75 1475.40L289.75 1475.60L292.25 1476.73L293.50 1475.95L295.50 1475.13L296.00 1474.52L296.75 1472.55L297.25 1470.45L300.00 1451.24L300.50 1448.66L300.75 1447.91L301.10 1447.54L301.50 1448.04L302.25 1451.21L304.00 1464.41L304.75 1468.76L305.75 1472.27L306.25 1473.45L306.75 1474.09L308.00 1474.03L309.00 1474.78L310.25 1475.16L311.50 1475.05L312.50 1475.20L313.75 1475.90L317.25 1477.10L318.50 1478.07L319.75 1476.91L321.00 1476.69L322.25 1475.69L323.50 1475.26L325.75 1473.83L327.00 1473.32L328.25 1473.15L329.50 1471.59L330.50 1471.71L331.75 1471.37L333.00 1470.13L334.25 1469.42L335.25 1467.48L336.00 1465.33L336.75 1461.81L338.00 1450.79L339.00 1435.59L340.00 1412.84L342.00 1339.65L345.25 1184.70L346.25 1154.32L346.75 1146.00L347.00 1143.76L347.30 1142.82L347.75 1144.90L348.25 1152.13L349.25 1180.75L353.25 1365.36L354.50 1407.61L355.50 1430.66L356.75 1448.91L357.50 1455.55L358.25 1459.87L359.00 1462.31L360.75 1465.52L361.75 1466.63L363.00 1467.27L364.25 1468.87L365.25 1468.90L366.75 1470.63L370.25 1472.25L371.50 1471.93L372.50 1472.43L373.75 1472.46L375.00 1471.50L376.25 1472.09L378.50 1471.57L381.00 1472.03L383.25 1472.91L384.50 1473.63L385.75 1473.31L387.00 1474.09L387.75 1474.02L389.25 1473.55L390.25 1472.17L391.25 1468.99L392.00 1464.58L392.75 1457.52L393.25 1450.52L394.50 1422.33L395.75 1376.55L398.75 1236.98L399.50 1215.71L400.00 1208.75L400.30 1207.51L400.50 1207.85L400.75 1209.72L401.25 1218.11L402.00 1241.75L404.75 1371.50L406.25 1425.72L407.00 1442.64L408.00 1457.26L409.00 1465.40L409.75 1468.80L410.25 1469.87L412.25 1471.72L413.50 1471.49L414.50 1470.86L416.00 1471.36L417.00 1471.45L418.75 1469.43L421.00 1465.01L421.50 1464.38L422.00 1464.20L422.75 1464.86L425.00 1468.86L426.50 1471.09L426.75 1471.13L427.75 1470.46L430.25 1470.79L431.50 1470.70L432.50 1470.34L433.75 1471.53L435.00 1470.72L436.25 1470.86L438.50 1470.31L439.75 1471.25L441.00 1470.53L444.50 1470.52L445.75 1470.77L447.00 1470.25L448.25 1469.22L449.50 1469.98L450.50 1470.04L451.75 1470.87L453.00 1470.95L454.25 1471.54L456.50 1471.85L457.75 1472.52L460.25 1472.60L462.50 1473.23L463.75 1473.11L465.00 1474.18L466.00 1474.50L468.50 1474.41L470.00 1475.08L471.00 1475.26L471.75 1474.54L473.00 1472.84L476.00 1465.86L476.75 1464.82L477.20 1464.67L477.75 1465.04L478.50 1466.21L481.50 1472.69L482.50 1474.10L483.75 1475.02L485.50 1475.41L487.75 1475.22L489.00 1474.91L490.25 1475.58L491.50 1475.25L492.75 1475.40L495.00 1474.91L498.75 1475.41L500.75 1474.67L501.75 1473.10L503.25 1468.74L504.75 1461.23L505.50 1459.53L506.25 1458.81L506.75 1459.06L507.25 1460.20L509.75 1470.79L510.75 1473.74L511.75 1475.01L514.25 1476.44L515.50 1475.88L516.50 1476.34L517.75 1476.10L519.00 1476.55L520.25 1476.21L522.50 1475.99L523.75 1476.16L526.25 1476.88L527.50 1476.55L528.50 1476.65L529.75 1476.19L532.25 1477.03L533.50 1477.01L534.75 1476.46L538.25 1477.02L539.50 1476.80L541.75 1477.46L544.00 1477.08L545.50 1477.23L546.75 1476.89L550.25 1477.86L551.50 1477.13L552.50 1477.62L553.75 1477.51L555.00 1477.84L556.25 1477.73L558.50 1477.19L559.75 1477.62L560.25 1477.59L561.00 1477.41L561.75 1476.52L562.75 1475.02L563.50 1473.13L566.75 1454.93L567.25 1453.39L567.70 1453.11L568.75 1454.27L569.50 1456.08L572.50 1467.47L574.00 1472.34L574.75 1473.85L575.75 1475.01L579.00 1477.13L581.25 1476.76L582.50 1477.23L583.75 1476.26L587.25 1477.02L589.75 1476.32L591.00 1476.92L593.00 1476.24L595.75 1474.60L596.50 1472.96L597.25 1470.23L598.50 1461.69L599.50 1448.91L600.50 1428.39L602.25 1369.01L605.50 1216.91L606.50 1187.63L607.00 1180.35L607.40 1178.50L607.75 1179.87L608.25 1186.43L609.25 1214.43L612.50 1362.06L614.00 1413.23L614.75 1430.28L615.75 1444.98L616.75 1452.74L617.25 1454.79L618.00 1456.72L618.50 1457.41L619.00 1457.63L621.00 1457.27L623.00 1459.05L624.50 1460.73L625.75 1463.51L627.00 1465.47L628.25 1468.22L629.50 1469.12L630.50 1470.44L631.75 1471.38L635.25 1472.55L637.75 1472.62L640.50 1471.97L641.25 1471.31L641.75 1470.45L642.50 1468.40L643.25 1465.06L644.75 1454.06L645.75 1441.46L648.25 1400.89L649.25 1389.53L649.75 1386.30L650.20 1385.50L650.50 1386.01L651.00 1388.64L651.75 1396.18L654.50 1440.26L656.00 1458.80L656.75 1464.77L657.75 1469.85L658.50 1471.90L660.00 1473.48L661.75 1474.33L663.00 1473.84L664.25 1474.57L665.50 1474.90L666.50 1474.64L667.75 1474.93L669.00 1474.49L670.25 1475.08L671.50 1474.48L673.75 1475.44L675.00 1474.99L676.25 1475.35L677.50 1474.90L678.50 1475.19L679.75 1475.23L682.25 1474.93L683.50 1475.05L687.00 1474.81L690.50 1475.87L691.75 1475.35L693.00 1475.29L694.25 1474.90L695.50 1474.96L696.75 1475.33L697.75 1475.28L699.00 1474.32L700.25 1473.79L703.00 1472.78L704.25 1472.68L705.00 1472.77L707.25 1474.29L708.50 1474.12L709.75 1475.07L711.00 1475.36L712.25 1475.14L713.50 1475.17L714.50 1474.83L716.00 1475.21L718.25 1474.93L719.50 1475.11L720.75 1474.74L723.00 1475.07L726.50 1474.72L728.00 1475.21L730.00 1475.44L732.50 1475.01L735.00 1475.33L736.25 1474.76L737.50 1475.04L739.75 1474.95L741.00 1475.41L743.25 1474.92L744.50 1475.41L745.75 1474.70L748.00 1474.93L749.50 1474.74L750.50 1475.00L751.75 1473.84L753.50 1473.69L754.25 1473.77L756.50 1475.15L757.75 1474.60L759.75 1474.49L760.25 1474.31L761.00 1473.16L762.00 1470.68L762.75 1467.16L763.25 1463.42L764.25 1451.24L765.50 1427.28L768.25 1357.85L779.00 1064.57L792.00 1411.60L793.25 1437.69L794.25 1452.69L795.50 1463.15L796.00 1465.67L796.50 1467.01L797.75 1468.14L799.75 1469.40L801.75 1469.22L802.50 1468.45L803.75 1465.26L804.50 1462.46L807.00 1446.91L807.50 1445.16L807.75 1444.64L808.20 1444.40L808.75 1445.06L809.50 1447.94L811.50 1460.70L812.50 1465.84L813.25 1468.42L814.25 1470.35L815.50 1471.38L816.50 1472.52L816.75 1472.52L817.75 1471.77L820.00 1472.42L821.25 1472.17L822.75 1473.30L825.00 1473.63L826.25 1473.42L827.50 1474.08L828.50 1473.90L830.00 1474.54L835.75 1475.87L837.00 1475.97L838.25 1475.83L839.50 1476.26L841.75 1476.46L843.00 1476.19L844.25 1476.49L845.50 1476.03L849.00 1475.96L850.25 1474.41L852.50 1472.13L853.25 1471.77L854.75 1471.46L855.75 1471.67L857.25 1472.63L858.50 1474.56L859.75 1475.16L861.00 1476.47L862.25 1476.17L863.50 1476.98L865.75 1476.49L867.00 1477.12L868.00 1477.05L869.50 1476.47L870.50 1477.39L870.75 1477.43L873.00 1476.65L874.25 1477.23L875.25 1477.41L877.75 1477.23L879.00 1477.69L881.25 1477.26L882.50 1477.89L883.75 1477.55L885.00 1477.57L886.25 1478.08L887.50 1477.27L888.50 1477.65L888.75 1477.56L889.75 1476.70L891.00 1476.04L893.25 1474.37L894.50 1474.13L895.75 1474.43L897.00 1474.31L902.00 1478.50L905.25 1478.50L906.75 1478.90L907.75 1478.76L909.00 1479.31L910.25 1478.68L912.50 1479.39L913.75 1478.95L916.00 1479.10L917.50 1479.67L918.50 1479.61L919.75 1479.05L921.00 1479.65L924.50 1480.09L925.75 1479.27L927.00 1480.03L928.25 1479.21L929.50 1479.09L931.00 1478.28L933.00 1476.78L934.00 1476.46L935.25 1476.92L938.00 1479.06L940.25 1479.72L941.50 1480.37L946.25 1480.46L947.50 1479.80L948.75 1480.61L951.00 1480.22L952.25 1480.70L953.50 1480.29L954.50 1480.25L957.00 1480.97L959.50 1480.15L961.75 1480.77L963.00 1480.75L964.25 1480.40L966.50 1481.01L967.75 1480.47L969.00 1480.92L971.50 1480.48L973.75 1480.60L975.00 1481.00L978.50 1480.36L979.75 1480.52L981.00 1480.33L982.25 1480.35L983.50 1480.92L984.50 1480.73L985.75 1480.19L987.00 1480.76L988.25 1480.80L989.50 1480.32L991.75 1480.49L993.00 1480.81L994.25 1480.82L995.50 1480.59L997.75 1480.61L999.00 1480.09L1000.00 1480.07L1001.50 1480.85L1003.75 1480.41L1007.50 1479.13L1008.50 1479.36L1010.00 1478.68L1011.00 1478.84L1012.25 1478.74L1013.25 1479.13L1014.75 1480.26L1018.25 1480.21L1020.50 1480.51L1021.75 1480.15L1023.00 1481.15L1024.25 1480.80L1025.25 1480.74L1026.75 1479.63L1027.75 1479.97L1029.00 1481.23L1030.25 1480.80L1033.75 1481.26L1035.00 1481.17L1036.25 1480.68L1039.75 1480.85L1041.00 1480.48L1043.50 1480.65L1045.75 1479.98L1047.00 1481.08L1048.25 1480.74L1049.00 1480.96" fill="none" stroke="#0a0a0a" stroke-width="1.8" stroke-linejoin="round"/>
<line x1="409.4" y1="164.9" x2="376.1" y2="490.8" stroke="#0a0a0a" stroke-width="1.5"/>
<line x1="451.0" y1="216.5" x2="403.0" y2="540.9" stroke="#0a0a0a" stroke-width="1.5"/>
<line x1="510.0" y1="329.9" x2="502.0" y2="562.1" stroke="#0a0a0a" stroke-width="1.5"/>
<line x1="551.4" y1="378.3" x2="525.2" y2="619.3" stroke="#0a0a0a" stroke-width="1.5"/>
<line x1="304.7" y1="503.4" x2="335.5" y2="620.8" stroke="#0a0a0a" stroke-width="1.5"/>
<line x1="587.7" y1="497.1" x2="585.1" y2="552.6" stroke="#0a0a0a" stroke-width="1.5"/>
<line x1="611.5" y1="582.8" x2="602.6" y2="630.4" stroke="#0a0a0a" stroke-width="1.5"/>
<line x1="216.6" y1="1281.5" x2="274.7" y2="1350.0" stroke="#0a0a0a" stroke-width="1.5"/>
<line x1="617.2" y1="960.7" x2="606.9" y2="1156.6" stroke="#0a0a0a" stroke-width="1.5"/>
<line x1="672.8" y1="1011.7" x2="651.0" y2="1367.6" stroke="#0a0a0a" stroke-width="1.5"/>
<path d="M1142.1 84.3L1164.6 41.9L1395.3 41.9L1418.5 84.3" fill="none" stroke="#0a0a0a" stroke-width="1.4"/>
<path d="M1081.4 986.2L1103.5 943.4L1334.4 943.4L1358.0 986.2" fill="none" stroke="#0a0a0a" stroke-width="1.4"/>
<text x="95.22" y="35.15" font-size="34.8" font-weight="bold" class="hv" textLength="24.82" lengthAdjust="spacingAndGlyphs">A</text>
<text x="1189.00" y="23.30" font-size="31" letter-spacing="1.491">enlarged</text>
<text transform="translate(318.39 148.80) scale(0.84 1)" font-size="25.8" letter-spacing="0.948" class="th">cholesta-5,24-<tspan font-style="italic">dien</tspan>-3β-ol</text>
<text transform="translate(418.59 202.30) scale(0.84 1)" font-size="25.8" letter-spacing="0.893" class="th">cholest-7-<tspan font-style="italic">en</tspan>-3β-ol</text>
<text transform="translate(267.79 278.30) scale(0.84 1)" font-size="25.8" letter-spacing="1.004" class="th">cholesterol</text>
<text transform="translate(464.02 314.00) scale(0.84 1)" font-size="25.8" letter-spacing="0.895" class="th">4α-methylcholesta-8,24-<tspan font-style="italic">dien</tspan>-3β-ol</text>
<text transform="translate(518.22 371.30) scale(0.84 1)" font-size="25.8" letter-spacing="0.895" class="th">4α-methylcholesta-8(14)-<tspan font-style="italic">en</tspan>-3β-ol</text>
<text transform="translate(194.99 490.10) scale(0.84 1)" font-size="25.8" letter-spacing="1.119" class="th">cholestanol</text>
<text transform="translate(560.55 487.20) scale(0.84 1)" font-size="25.8" letter-spacing="1.139" class="th">lanosterol</text>
<text transform="translate(608.25 566.60) scale(0.84 1)" font-size="25.8" letter-spacing="0.932" class="th"><tspan font-style="italic">nor</tspan>-lanosterol</text>
<text x="849.82" y="619.00" font-size="25.8" letter-spacing="1.385">diplopterol</text>
<text x="91.63" y="799.40" font-size="25.8" letter-spacing="1.345">Istd</text>
<text x="364.92" y="775.70" font-size="25.8" letter-spacing="1.374">cont.</text>
<text x="93.01" y="901.25" font-size="33.8" font-weight="bold" class="hv" textLength="24.47" lengthAdjust="spacingAndGlyphs">B</text>
<text x="1133.30" y="920.00" font-size="31" letter-spacing="1.491">enlarged</text>
<text transform="translate(495.32 946.00) scale(0.84 1)" font-size="25.8" letter-spacing="0.928" class="th">4α-methylcholesta-8,24-<tspan font-style="italic">dien</tspan>-3β-ol</text>
<text transform="translate(628.32 995.90) scale(0.84 1)" font-size="25.8" letter-spacing="0.902" class="th">4α-methylcholesta-8(14)-<tspan font-style="italic">en</tspan>-3β-ol</text>
<text transform="translate(728.25 1053.90) scale(0.84 1)" font-size="25.8" letter-spacing="1.126" class="th">lanosterol</text>
<text transform="translate(303.79 1124.60) scale(0.84 1)" font-size="25.8" letter-spacing="0.876" class="th">cholesta-5,24-<tspan font-style="italic">dien</tspan>-3β-ol</text>
<text transform="translate(199.19 1188.90) scale(0.84 1)" font-size="25.8" letter-spacing="0.957" class="th">cholesterol</text>
<text transform="translate(383.89 1192.10) scale(0.84 1)" font-size="25.8" letter-spacing="0.914" class="th">cholest-7-<tspan font-style="italic">en</tspan>-3β-ol</text>
<text transform="translate(127.19 1270.90) scale(0.84 1)" font-size="25.8" letter-spacing="0.929" class="th">cholestanol</text>
<text transform="translate(811.65 1427.50) scale(0.84 1)" font-size="25.8" letter-spacing="0.849" class="th"><tspan font-style="italic">nor</tspan>-lanosterol</text>
<text x="92.83" y="1612.70" font-size="25.8" letter-spacing="2.078">Istd</text>
<text x="370.32" y="1631.00" font-size="25.8" letter-spacing="1.524">cont.</text>
<text x="504.42" y="1639.70" font-size="25.8" letter-spacing="1.449">cont.</text>
<text x="638.62" y="1652.80" font-size="25.8" letter-spacing="1.449">cont.</text>
<text x="733.79" y="1655.20" font-size="25.8" textLength="31.43" lengthAdjust="spacingAndGlyphs">22</text>
<text x="916.84" y="1639.30" font-size="25.8" letter-spacing="0.042">?</text>
<text x="1075.20" y="1664.80" font-size="25.8" textLength="31.11" lengthAdjust="spacingAndGlyphs">28</text>
<text x="462.89" y="1779.70" font-size="63.5" letter-spacing="1.527">Retention time</text>
<text transform="translate(45.1 1064.87) rotate(-90)" x="0" y="0" font-size="63" letter-spacing="2.004">Relative intensity</text>
</svg></body></html>
